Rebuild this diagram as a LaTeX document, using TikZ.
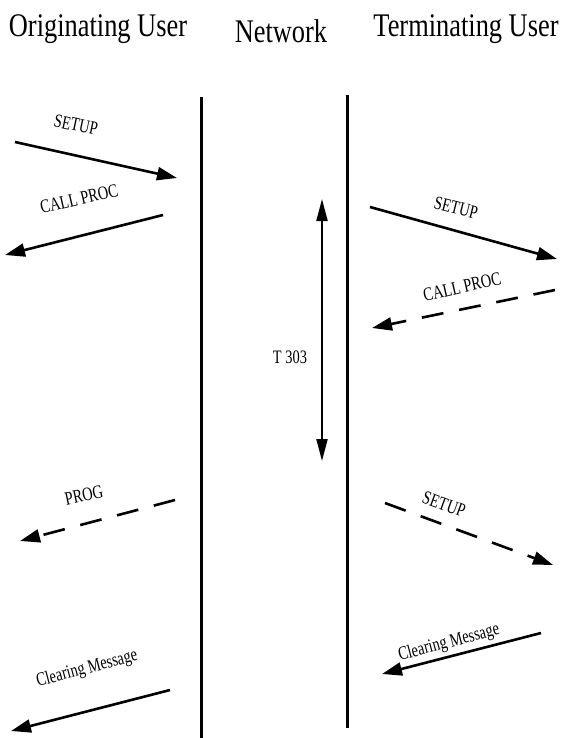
\documentclass[tikz,border=0pt]{standalone}
\usepackage{fontspec}
\setmainfont{Liberation Serif}
\newfontfamily\headfont[FakeStretch=0.8]{Liberation Serif}
\newfontfamily\lblfont[FakeStretch=0.76]{Liberation Serif}
\usetikzlibrary{arrows.meta}
\begin{document}
\begin{tikzpicture}[x=1pt,y=-1pt,
  head/.style={font=\headfont\fontsize{33}{36}\selectfont, inner sep=0pt},
  lbl/.style={font=\lblfont\fontsize{19}{21}\selectfont, inner sep=0pt},
  life/.style={line width=3pt},
  msg/.style={line width=2.6pt, -{Triangle[length=20pt,width=13pt]}},
  dmsg/.style={msg, dash pattern=on 22pt off 16pt},
  timer/.style={line width=2pt, {Triangle[length=22pt,width=11pt]}-{Triangle[length=22pt,width=11pt]}}]
\useasboundingbox (0,0) rectangle (564,738);
% headers
\node[head] (ho) at (98,29) {Originating User};
\node[head] (hn) at (281,31) {Network};
\node[head] (ht) at (466,29) {Terminating User};
% lifelines
\coordinate (l1) at (201,97); \coordinate (l2) at (201,738);
\coordinate (r1) at (347,95); \coordinate (r2) at (347,728);
\draw[life] (l1) -- (l2);
\draw[life] (r1) -- (r2);
% coordinates for messages
\coordinate (a1) at (15,142);  \coordinate (a2) at (177,178);
\coordinate (b1) at (163,215); \coordinate (b2) at (5,255);
\coordinate (c1) at (370,207); \coordinate (c2) at (557,259);
\coordinate (d1) at (555,290); \coordinate (d2) at (372,328);
\coordinate (e1) at (175,500); \coordinate (e2) at (20,541);
\coordinate (f1) at (385,503); \coordinate (f2) at (553,565);
\coordinate (g1) at (170,690); \coordinate (g2) at (11,731);
\coordinate (h1) at (541,633); \coordinate (h2) at (382,674);
\coordinate (t1) at (322,199); \coordinate (t2) at (322,461);
\draw[msg] (a1) -- (a2);
\draw[msg] (b1) -- (b2);
\draw[msg] (c1) -- (c2);
\draw[dmsg] (d1) -- (d2);
\draw[dmsg] (e1) -- (e2);
\draw[dmsg] (f1) -- (f2);
\draw[msg] (g1) -- (g2);
\draw[msg] (h1) -- (h2);
\draw[timer] (t1) -- (t2);
% labels
\node[lbl, rotate=-12] (la) at (76,125) {SETUP};
\node[lbl, rotate=13] (lb) at (79,199) {CALL PROC};
\node[lbl, rotate=-14] (lc) at (456,208) {SETUP};
\node[lbl, rotate=13] (ld) at (462,287) {CALL PROC};
\node[lbl, rotate=12] (le) at (84,495) {PROG};
\node[lbl, rotate=-20] (lf) at (444,504) {SETUP};
\node[lbl, rotate=15] (lg) at (87,669) {Clearing Message};
\node[lbl, rotate=15] (lh) at (449,643) {Clearing Message};
\node[lbl] (lt) at (290,357) {T 303};
\end{tikzpicture}
\end{document}
